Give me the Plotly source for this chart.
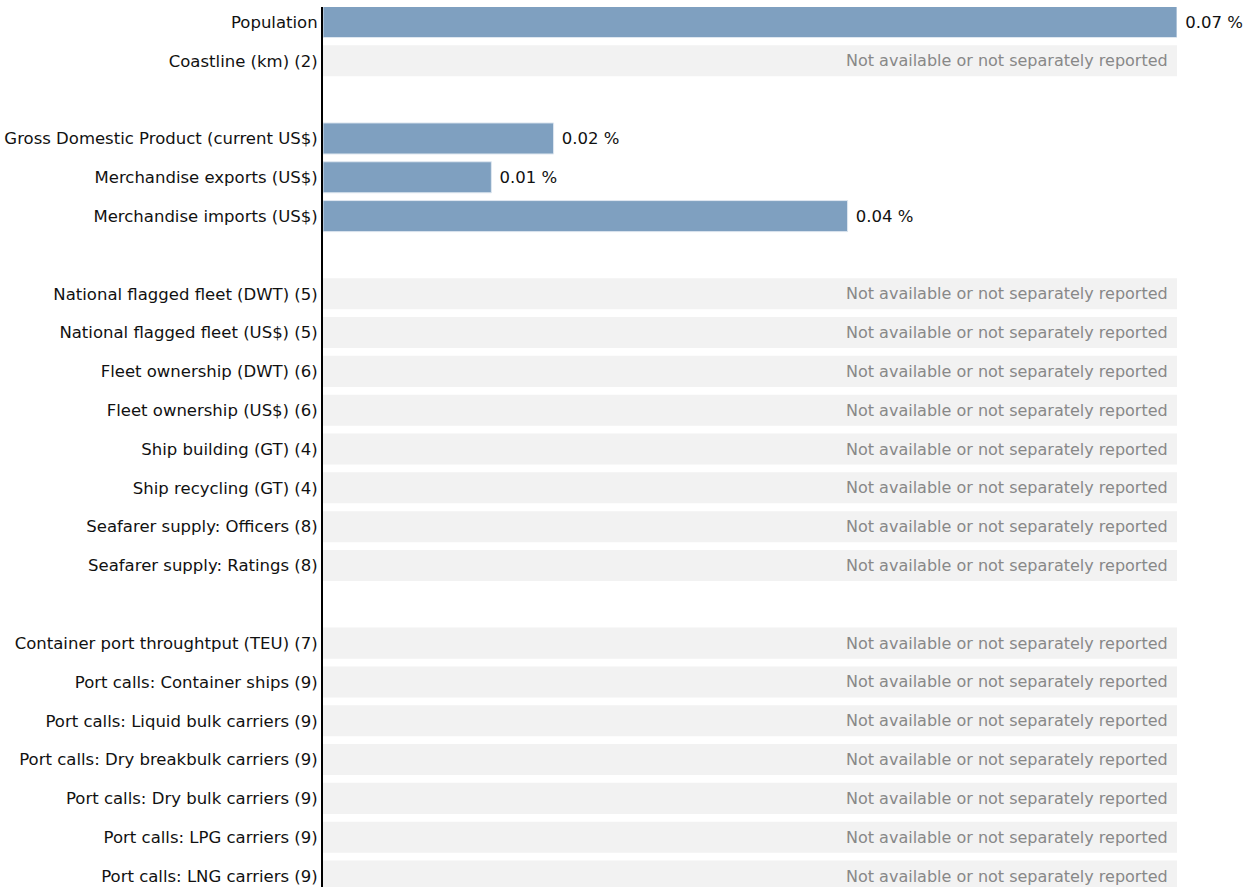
import plotly.graph_objects as go

# Indicator groups (a blank row separates consecutive groups)
group_labels = [
    ["Population", "Coastline (km) (2)"],
    ["Gross Domestic Product (current US$)", "Merchandise exports (US$)",
     "Merchandise imports (US$)"],
    ["National flagged fleet (DWT) (5)", "National flagged fleet (US$) (5)",
     "Fleet ownership (DWT) (6)", "Fleet ownership (US$) (6)",
     "Ship building (GT) (4)", "Ship recycling (GT) (4)",
     "Seafarer supply: Officers (8)", "Seafarer supply: Ratings (8)"],
    ["Container port throughtput (TEU) (7)", "Port calls: Container ships (9)",
     "Port calls: Liquid bulk carriers (9)", "Port calls: Dry breakbulk carriers (9)",
     "Port calls: Dry bulk carriers (9)", "Port calls: LPG carriers (9)",
     "Port calls: LNG carriers (9)"],
]
# Share of world total, in percent (None = not available)
group_values = [
    [0.0700, None],
    [0.0189, 0.0138, 0.0430],
    [None] * 8,
    [None] * 7,
]
NA_TEXT = "Not available or not separately reported"

labels, values, positions = [], [], []
pos = 0
for labs, vals in zip(group_labels, group_values):
    for lab, val in zip(labs, vals):
        labels.append(lab)
        values.append(val)
        positions.append(pos)
        pos += 1
    pos += 1  # spacer row

xmax = max(v for v in values if v is not None)

avail_y = [p for p, v in zip(positions, values) if v is not None]
avail_x = [v for v in values if v is not None]
na_y = [p for p, v in zip(positions, values) if v is None]

FONT = "DejaVu Sans"
FSIZE = 16.5

fig = go.Figure()
# grey placeholder bars for missing indicators
fig.add_trace(go.Bar(
    y=na_y, x=[xmax] * len(na_y), orientation="h", width=0.8,
    marker=dict(color="#f2f2f2", line=dict(width=0)),
    hoverinfo="skip", showlegend=False,
))
# reported indicators
fig.add_trace(go.Bar(
    y=avail_y, x=avail_x, orientation="h", width=0.8,
    marker=dict(color="#7fa0c0", line=dict(color="#dfe7f0", width=1)),
    text=[f" {v:.2f} %" for v in avail_x], textposition="outside",
    textfont=dict(family=FONT, size=FSIZE, color="#111111"),
    constraintext="none", cliponaxis=False,
    showlegend=False,
))

for p in na_y:
    fig.add_annotation(
        x=xmax, y=p, xref="x", yref="y", text=NA_TEXT, showarrow=False,
        xanchor="right", xshift=-7,
        font=dict(family=FONT, size=16, color="#888888"),
    )

row_px = 38.82
top_px = 7
first_center_px = 22
y_top = -(first_center_px - top_px) / row_px
y_bottom = y_top + (887 - top_px) / row_px

fig.update_layout(
    width=1254, height=887,
    margin=dict(l=323, r=77, t=top_px, b=0, pad=0),
    paper_bgcolor="white", plot_bgcolor="white",
    font=dict(family=FONT, size=FSIZE, color="#111111"),
    bargap=0.2,
    xaxis=dict(range=[0, xmax], visible=False, showgrid=False, zeroline=False),
    yaxis=dict(
        range=[y_bottom, y_top], tickmode="array", tickvals=positions, ticktext=labels,
        showgrid=False, zeroline=False, showline=True, linecolor="#000000", linewidth=2,
        ticks="", tickfont=dict(family=FONT, size=FSIZE, color="#111111"),
    ),
)

fig.write_html("out.html")
